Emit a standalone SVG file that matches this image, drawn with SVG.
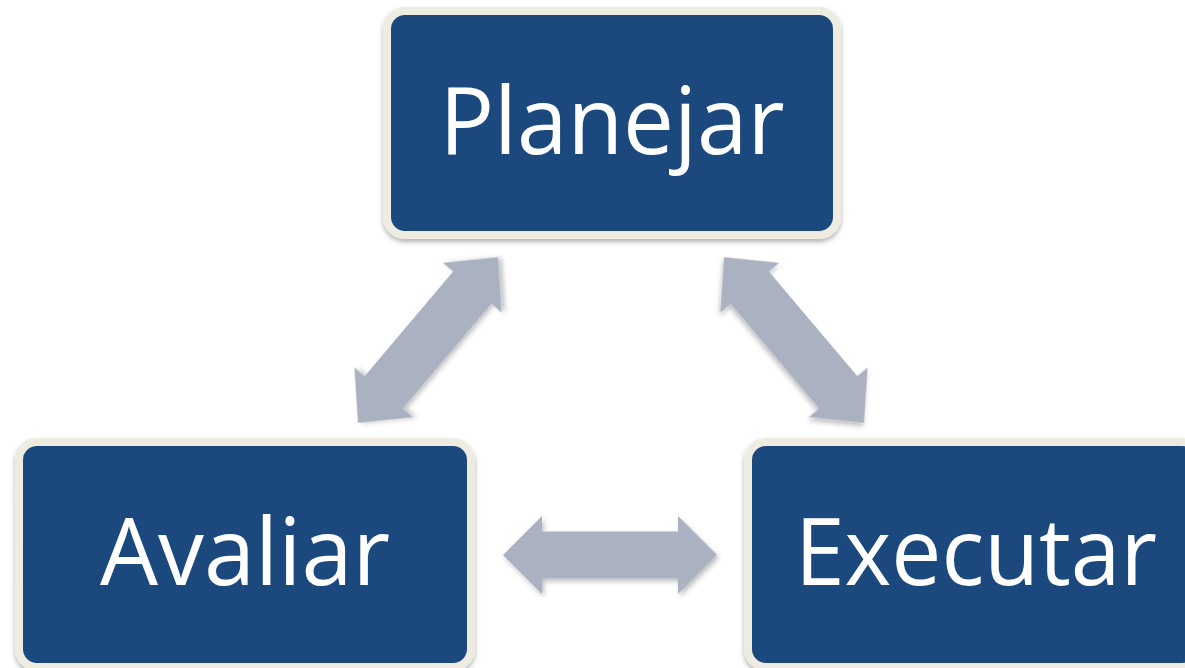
<svg xmlns="http://www.w3.org/2000/svg" width="1185" height="668" viewBox="0 0 1185 668">
  <style>
    .box { fill: #1F497D; stroke: #EEECE1; stroke-width: 8; filter: url(#nodeShadow); }
    .label { fill: #FFFFFF; font-family: "Open Sans", "Noto Sans", "Liberation Sans", sans-serif; font-size: 94px; text-anchor: middle; }
    .arrow { fill: #AAB1C0; filter: url(#arrowShadow); }
  </style>
  <defs>
    <filter id="nodeShadow" x="-10%" y="-10%" width="120%" height="125%">
      <feDropShadow dx="0" dy="3" stdDeviation="2.5" flood-color="#000000" flood-opacity="0.3"/>
    </filter>
    <filter id="arrowShadow" x="-20%" y="-20%" width="140%" height="140%">
      <feDropShadow dx="2" dy="3" stdDeviation="2.5" flood-color="#000000" flood-opacity="0.25"/>
    </filter>
    <path id="diagArrow" d="M -108.5 0 L -68.5 -38.5 L -68.5 -25 L 68.5 -25 L 68.5 -38.5 L 108.5 0 L 68.5 38.5 L 68.5 25 L -68.5 25 L -68.5 38.5 Z"/>
  </defs>
  <rect width="1185" height="668" fill="#FFFFFF"/>

  <g id="connectors">
    <use href="#diagArrow" class="arrow" transform="translate(428,340) rotate(-49.8)"/>
    <use href="#diagArrow" class="arrow" transform="translate(794,340) rotate(49.8)"/>
    <path class="arrow" d="M -107 0 L -68 -39 L -68 -23.5 L 68 -23.5 L 68 -39 L 107 0 L 68 39 L 68 23.5 L -68 23.5 L -68 39 Z" transform="translate(610,555)"/>
  </g>

  <g id="node-planejar">
    <rect class="box" x="387" y="11" width="450" height="224" rx="18" ry="18"/>
    <text class="label" x="612" y="154" textLength="345" lengthAdjust="spacingAndGlyphs">Planejar</text>
  </g>

  <g id="node-avaliar">
    <rect class="box" x="19" y="442" width="452" height="225" rx="18" ry="18"/>
    <text class="label" x="245" y="585" textLength="290" lengthAdjust="spacingAndGlyphs">Avaliar</text>
  </g>

  <g id="node-executar">
    <rect class="box" x="748" y="442" width="452" height="225" rx="18" ry="18"/>
    <text class="label" x="976" y="585" textLength="362" lengthAdjust="spacingAndGlyphs">Executar</text>
  </g>
</svg>
